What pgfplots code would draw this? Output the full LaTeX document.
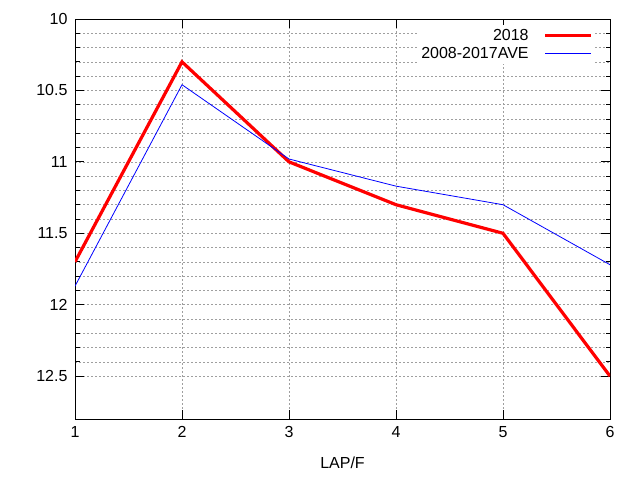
\documentclass[border=0pt]{standalone}
\usepackage{fontspec}
\setmainfont{Liberation Sans}
\usepackage{pgfplots}
\pgfplotsset{compat=1.18}
\begin{document}
\begin{tikzpicture}[x=1pt,y=1pt]
\path[use as bounding box] (0,0) rectangle (640,480);
\begin{axis}[
    at={(75pt,61pt)}, anchor=south west,
    scale only axis, width=535pt, height=400pt,
    xmin=1, xmax=6, ymin=10, ymax=12.8,
    y dir=reverse,
    xtick={1,2,3,4,5,6},
    ytick={10,10.5,11,11.5,12,12.5},
    minor y tick num=4,
    grid=both,
    major grid style={gray!75, line width=0.6pt, dash pattern=on 2pt off 2pt},
    minor grid style={gray!75, line width=0.6pt, dash pattern=on 2pt off 2pt},
    axis line style={black, line width=0.9pt},
    tick align=inside,
    major tick length=9pt, minor tick length=4.5pt,
    tick style={black, line width=0.9pt},
    /pgf/number format/assume math mode=true,
    tick label style={font=\fontsize{16}{19}\selectfont},
    yticklabel style={xshift=-4pt},
    xticklabel style={yshift=-4pt},
    xlabel={LAP/F},
    xlabel style={font=\fontsize{16}{19}\selectfont, yshift=-12pt},
    legend plot pos=right,
    legend cell align=right,
    legend style={at={(0.972,0.985)}, anchor=north east, draw=none, fill=white,
        font=\fontsize{16}{19}\selectfont, row sep=1.5pt,
        inner sep=2pt},
    legend image code/.code={\draw[#1] (0pt,0pt) -- (46pt,0pt);},
    clip=true,
]
\addplot[red, line width=3.2pt, line join=miter] coordinates {
(1,11.70) (2,10.30) (3,11.00) (4,11.30) (5,11.50) (6,12.50)};
\addlegendentry{2018\rule{13pt}{0pt}}
\addplot[blue, line width=0.8pt] coordinates {
(1,11.87) (2,10.46) (3,10.98) (4,11.17) (5,11.30) (6,11.72)};
\addlegendentry{2008-2017AVE\rule{13pt}{0pt}}
\end{axis}
\end{tikzpicture}
\end{document}
